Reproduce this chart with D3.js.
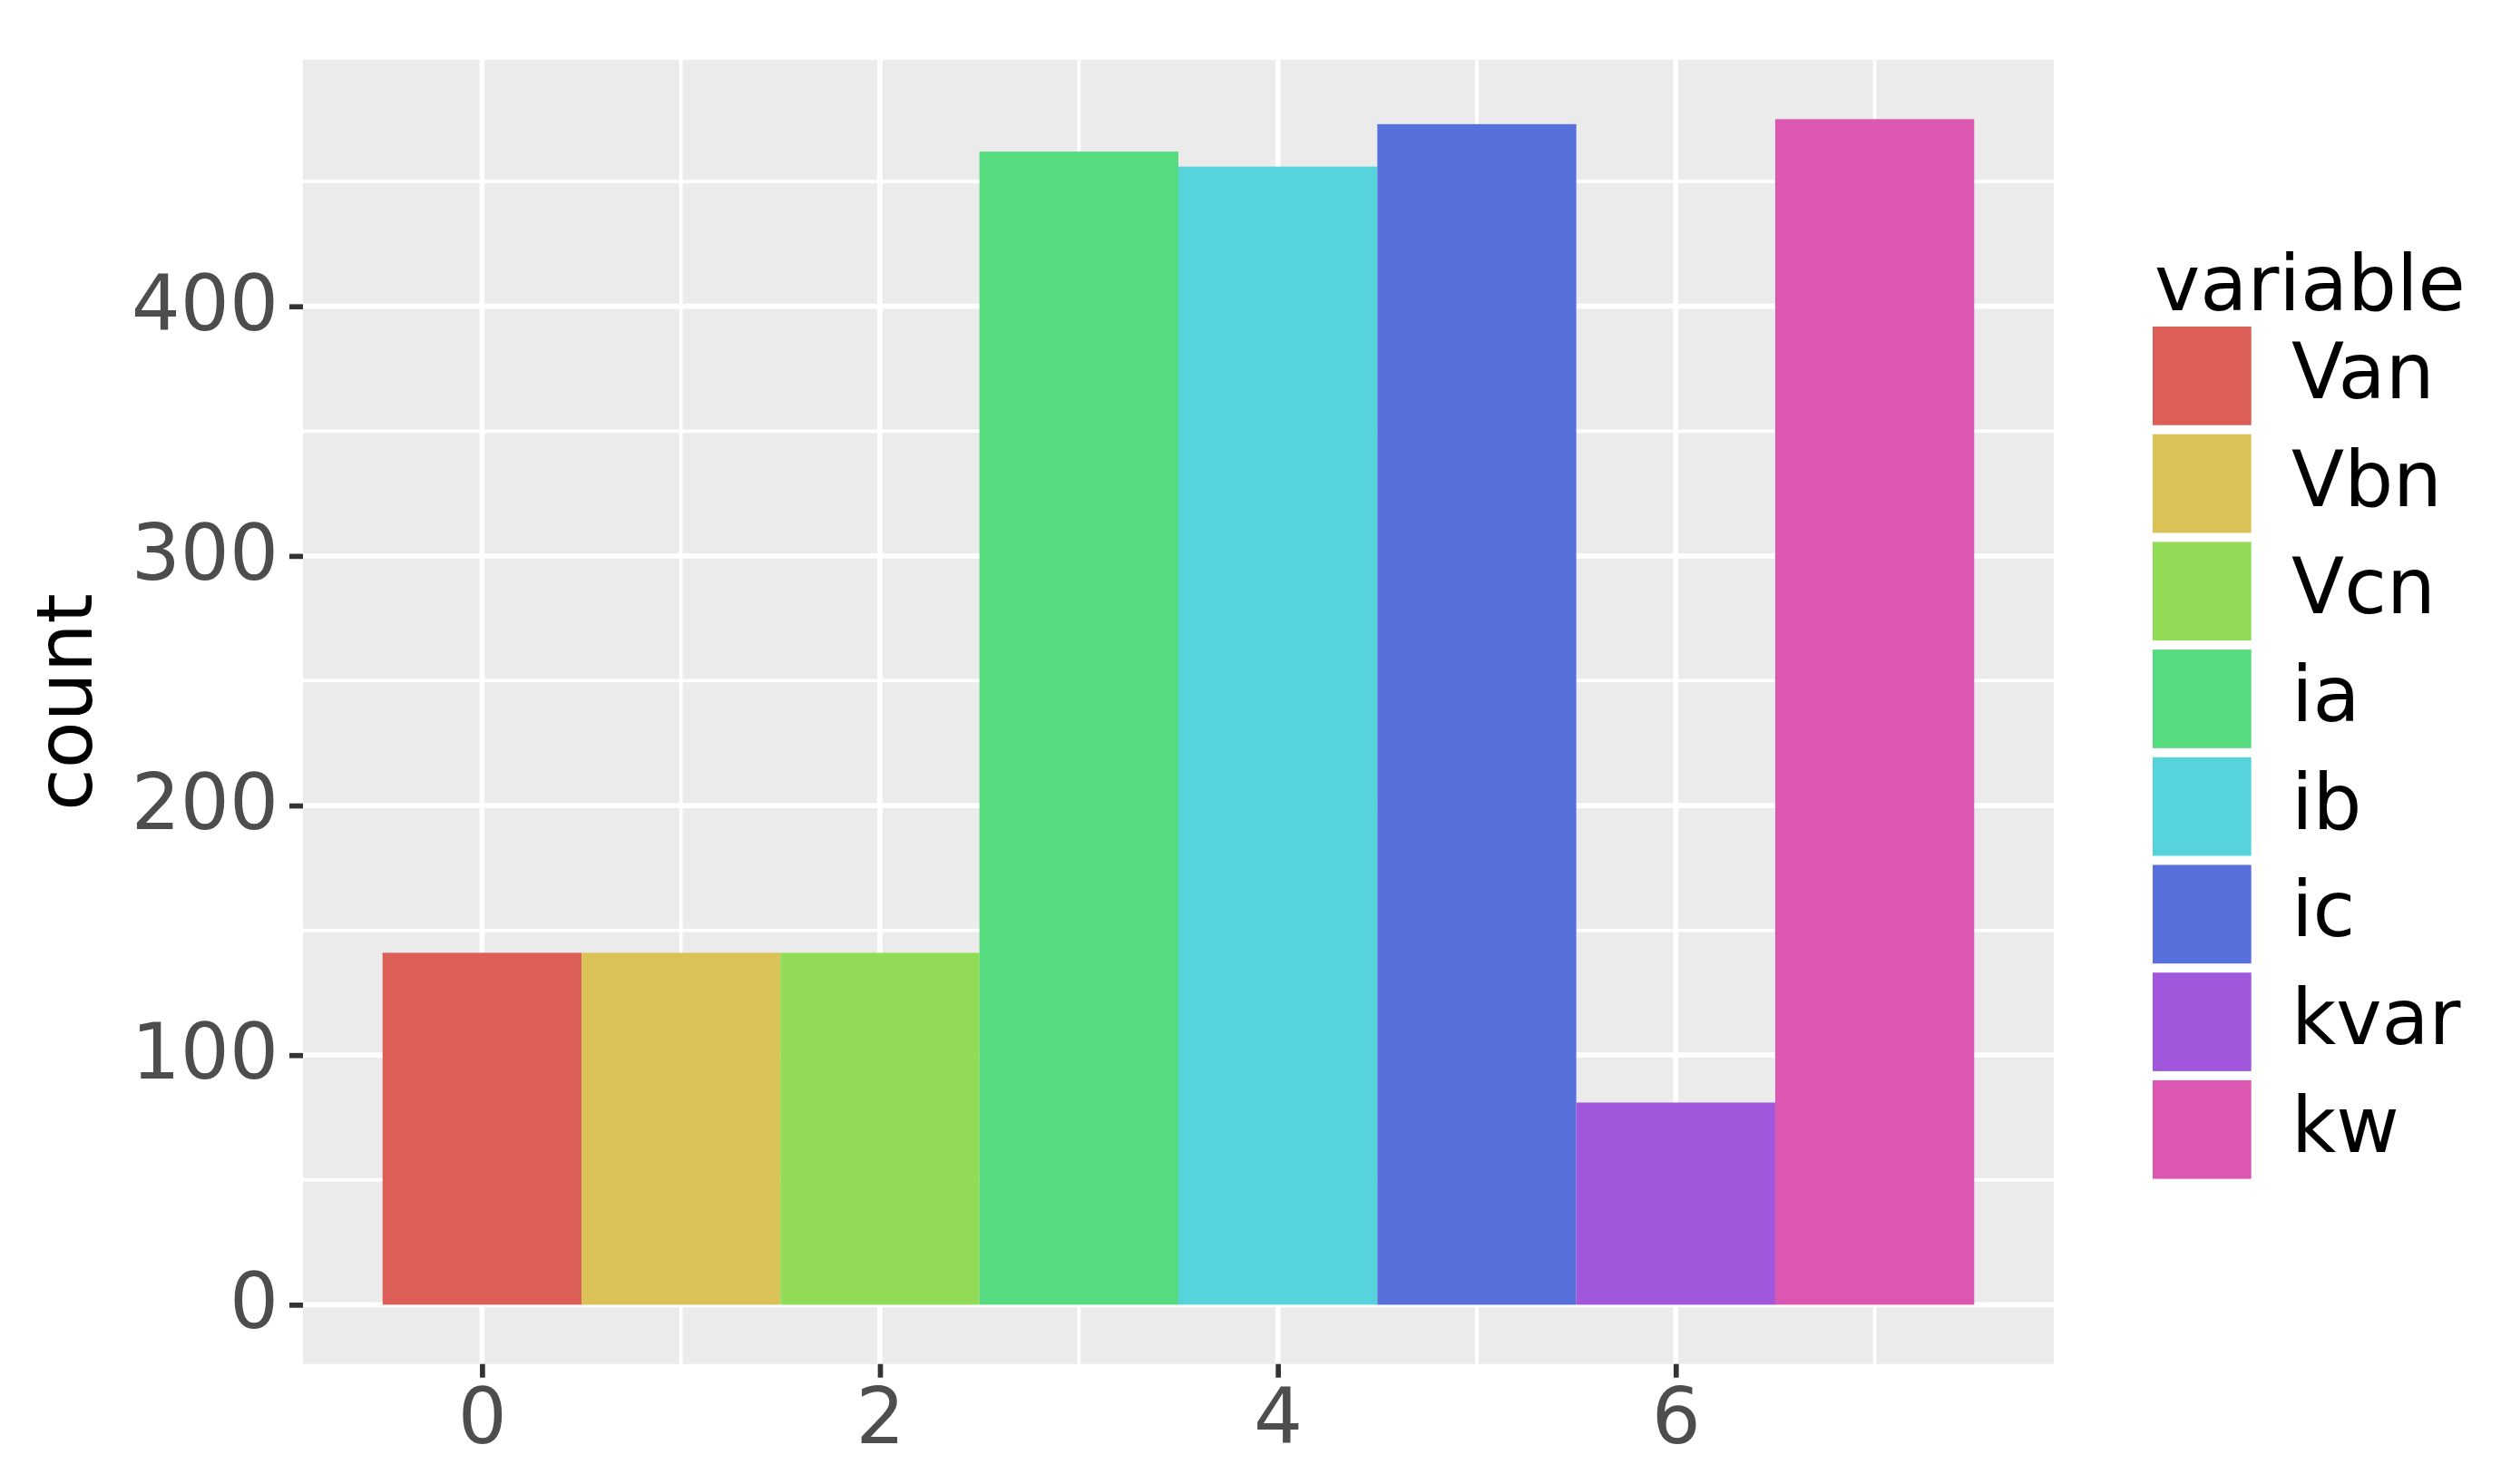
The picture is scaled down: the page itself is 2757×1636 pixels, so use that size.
<!DOCTYPE html>
<html>
<head>
<meta charset="utf-8">
<script src="https://cdn.jsdelivr.net/npm/d3@7"></script>
<style>
  html, body { margin: 0; padding: 0; background: #ffffff; }
  svg { display: block; }
  text { font-family: "DejaVu Sans", sans-serif; }
</style>
</head>
<body>
<svg id="chart" width="2757" height="1636"></svg>
<script>
// ---- data ----
const categories = ["Van", "Vbn", "Vcn", "ia", "ib", "ic", "kvar", "kw"];
const xPositions = [0, 1, 2, 3, 4, 5, 6, 7];
const counts = [141, 141, 141, 462, 456, 473, 81, 475];
const colors = ["#db5f57", "#dbc257", "#91db57", "#57db80", "#57d3db", "#5770db", "#a157db", "#db57b2"];
const xTicks = [0, 2, 4, 6];
const xMinorTicks = [1, 3, 5, 7];
const yTicks = [0, 100, 200, 300, 400];
const yMinorTicks = [50, 150, 250, 350, 450];
const yTitle = "count";
const legendTitle = "variable";

// ---- layout ----
const panel = { left: 334, right: 2264, top: 66, bottom: 1503.7 };
const svg = d3.select("#chart");

const xmin = d3.min(xPositions) - 0.5, xmax = d3.max(xPositions) + 0.5;
const xpad = (xmax - xmin) * 0.05;
const x = d3.scaleLinear().domain([xmin - xpad, xmax + xpad]).range([panel.left, panel.right]);
const ymax = d3.max(counts);
const y = d3.scaleLinear().domain([-ymax * 0.05, ymax * 1.05]).range([panel.bottom, panel.top]);

// panel background
svg.append("rect")
  .attr("x", panel.left).attr("y", panel.top)
  .attr("width", panel.right - panel.left).attr("height", panel.bottom - panel.top)
  .attr("fill", "#ebebeb");

const grid = svg.append("g");
grid.selectAll(".ymin").data(yMinorTicks).enter().append("line")
  .attr("x1", panel.left).attr("x2", panel.right)
  .attr("y1", d => y(d)).attr("y2", d => y(d))
  .attr("stroke", "#ffffff").attr("stroke-width", 3.8);
grid.selectAll(".xmin").data(xMinorTicks).enter().append("line")
  .attr("y1", panel.top).attr("y2", panel.bottom)
  .attr("x1", d => x(d)).attr("x2", d => x(d))
  .attr("stroke", "#ffffff").attr("stroke-width", 3.8);
grid.selectAll(".ymaj").data(yTicks).enter().append("line")
  .attr("x1", panel.left).attr("x2", panel.right)
  .attr("y1", d => y(d)).attr("y2", d => y(d))
  .attr("stroke", "#ffffff").attr("stroke-width", 5.7);
grid.selectAll(".xmaj").data(xTicks).enter().append("line")
  .attr("y1", panel.top).attr("y2", panel.bottom)
  .attr("x1", d => x(d)).attr("x2", d => x(d))
  .attr("stroke", "#ffffff").attr("stroke-width", 5.7);

// bars
const rows = categories.map((c, i) => ({ cat: c, pos: xPositions[i], n: counts[i], col: colors[i] }));
svg.append("g").selectAll("rect").data(rows).enter().append("rect")
  .attr("x", d => x(d.pos - 0.5))
  .attr("width", d => x(d.pos + 0.5) - x(d.pos - 0.5))
  .attr("y", d => y(d.n))
  .attr("height", d => y(0) - y(d.n))
  .attr("fill", d => d.col);

// axes
const fontSize = 85;
const xAxis = d3.axisBottom(x).tickValues(xTicks).tickSize(15).tickPadding(12).tickFormat(d3.format("d"));
const gx = svg.append("g").attr("transform", `translate(0,${panel.bottom})`).call(xAxis);
gx.select(".domain").remove();
gx.selectAll(".tick line").attr("stroke", "#333333").attr("stroke-width", 5.7);
gx.selectAll(".tick text").attr("fill", "#4d4d4d").attr("font-size", fontSize)
  .attr("font-family", "DejaVu Sans").attr("dy", "0.71em");

const yAxis = d3.axisLeft(y).tickValues(yTicks).tickSize(15).tickPadding(12).tickFormat(d3.format("d"));
const gy = svg.append("g").attr("transform", `translate(${panel.left},0)`).call(yAxis);
gy.select(".domain").remove();
gy.selectAll(".tick line").attr("stroke", "#333333").attr("stroke-width", 5.7);
gy.selectAll(".tick text").attr("fill", "#4d4d4d").attr("font-size", fontSize)
  .attr("font-family", "DejaVu Sans").attr("dy", "0.3em");

// y title
svg.append("text")
  .attr("transform", `translate(101,774) rotate(-90)`)
  .attr("text-anchor", "middle")
  .attr("font-size", fontSize).attr("fill", "#000000")
  .text(yTitle);

// legend
const leg = { x: 2373, top: 360, key: 108.7, pitch: 118.7 };
svg.append("text")
  .attr("x", 2375).attr("y", 341.7)
  .attr("font-size", fontSize).attr("fill", "#000000")
  .text(legendTitle);
const li = svg.append("g").selectAll("g").data(rows).enter().append("g")
  .attr("transform", (d, i) => `translate(${leg.x},${leg.top + i * leg.pitch})`);
li.append("rect").attr("width", leg.key).attr("height", leg.key).attr("fill", d => d.col);
li.append("text").attr("x", 2526 - leg.x).attr("y", leg.key / 2 + 24.5)
  .attr("font-size", fontSize).attr("fill", "#000000")
  .text(d => d.cat);
</script>
</body>
</html>
